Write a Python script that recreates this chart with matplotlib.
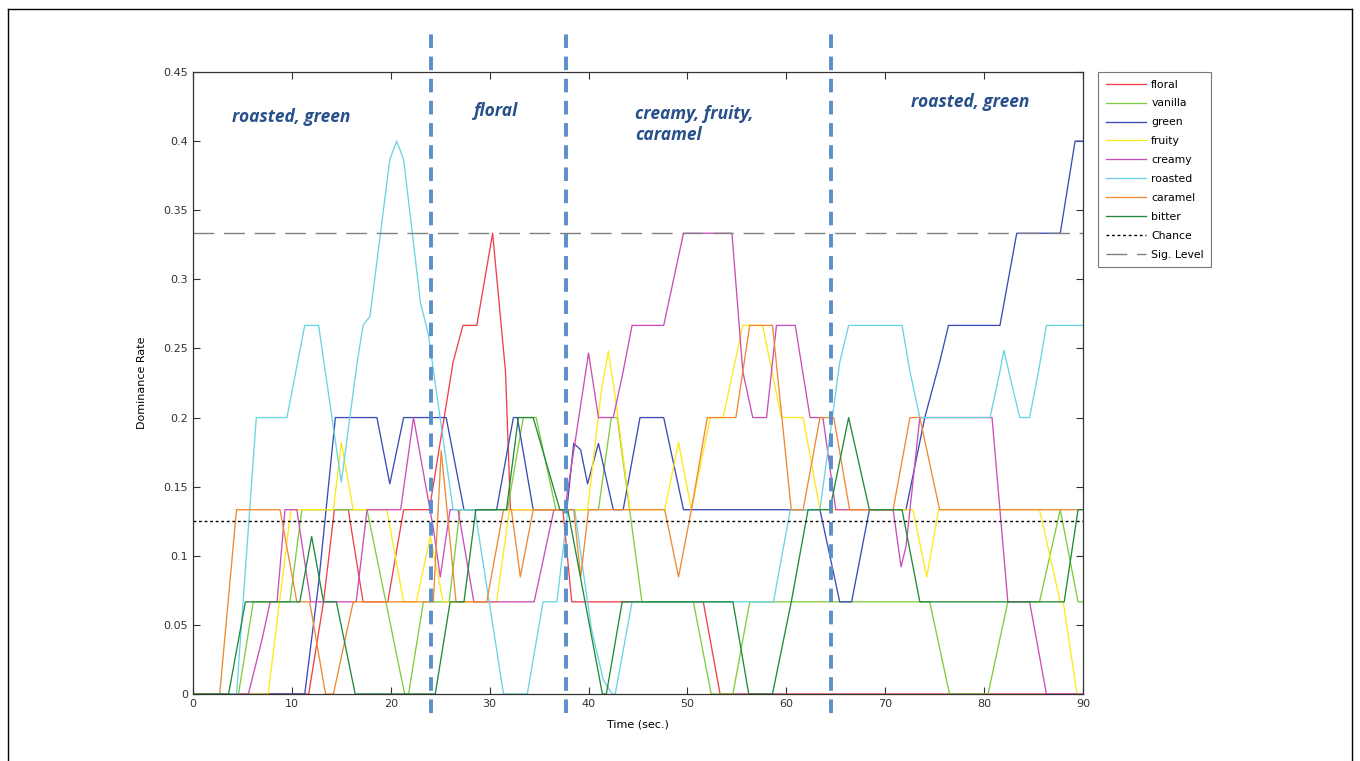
import matplotlib

matplotlib.use("Agg")

import matplotlib.pyplot as plt
from matplotlib.lines import Line2D

# dominance counts out of a 15-person panel
PANEL_SIZE = 15

floral_t = [0, 11.7, 13.2, 14.3, 15.7, 17.2, 19.7, 21.3, 23.9, 26.3, 27.3, 28.7, 30.3, 31.6, 32.1,
            37.4, 38.3, 51.6, 53.3, 90]
floral_c = [0, 0, 1, 2, 2, 1, 1, 2, 2, 3.6, 4, 4, 5, 3.5, 2, 2, 1, 1, 0, 0]

vanilla_t = [0, 4.6, 6.1, 9.8, 11.0, 17.6, 21.4, 21.8, 23.3, 25.9, 27.0, 31.8, 33.4, 34.7, 36.7,
             41.0, 42.3, 42.9, 45.4, 50.6, 52.4, 54.6, 56.3, 74.5, 76.5, 80.4, 82.4, 85.6, 87.7,
             89.5, 90]
vanilla_c = [0, 0, 1, 1, 2, 2, 0, 0, 1, 1, 2, 2, 3, 3, 2, 2, 3, 3, 1, 1, 0, 0, 1, 1, 0, 0, 1, 1, 2,
             1, 1]

green_t = [0, 11.3, 12.7, 14.4, 18.6, 19.9, 21.3, 25.6, 27.4, 30.7, 32.4, 32.8, 34.4, 37.8, 38.5,
           39.2, 39.9, 41.0, 42.5, 43.5, 45.2, 47.6, 49.6, 63.4, 65.4, 66.6, 68.4, 72.1, 74.0, 75.5,
           76.4, 81.6, 83.3, 87.7, 89.2, 90]
green_c = [0, 0, 1.2, 3, 3, 2.28, 3, 3, 2, 2, 3, 3, 2, 2, 2.72, 2.65, 2.28, 2.72, 2, 2, 3, 3, 2, 2,
           1, 1, 2, 2, 3, 3.6, 4, 4, 5, 5, 6, 6]

fruity_t = [0, 7.6, 9.9, 14.2, 15.0, 16.2, 19.6, 21.3, 22.6, 24.0, 25.3, 30.7, 32.0, 39.9, 41.3,
            42.0, 42.6, 44.2, 47.7, 49.1, 50.4, 52.3, 53.6, 55.6, 57.6, 59.5, 61.7, 63.4, 72.8,
            74.2, 75.4, 85.6, 87.7, 88.0, 89.4, 90]
fruity_c = [0, 0, 2, 2, 2.73, 2, 2, 1, 1, 1.71, 1, 1, 2, 2, 3.3, 3.72, 3.3, 2, 2, 2.73, 2, 3, 3, 4,
            4, 3, 3, 2, 2, 1.27, 2, 2, 1, 1, 0, 0]

creamy_t = [0, 5.6, 7.0, 7.8, 8.5, 9.3, 10.5, 11.9, 16.5, 17.6, 21.0, 22.3, 24.3, 25.0, 26.0, 26.8,
            28.4, 34.5, 36.5, 37.6, 40.0, 41.0, 42.5, 43.5, 44.4, 47.6, 49.6, 54.5, 55.6, 56.6, 58.0,
            59.0, 60.9, 62.4, 63.7, 65.0, 70.8, 71.6, 72.1, 73.5, 80.8, 82.4, 84.6, 86.3, 90]
creamy_c = [0, 0, 0.6, 1, 1, 2, 2, 1, 1, 2, 2, 3, 1.8, 1.27, 2, 2, 1, 1, 2, 2, 3.7, 3, 3, 3.5, 4, 4,
            5, 5, 3.5, 3, 3, 4, 4, 3, 3, 2, 2, 1.38, 1.6, 3, 3, 1, 1, 0, 0]

roasted_t = [0, 4.4, 6.4, 9.5, 11.3, 12.7, 15.0, 16.6, 17.2, 17.9, 19.9, 20.6, 21.3, 23.0, 23.8,
             26.3, 28.5, 31.4, 33.8, 35.4, 36.8, 37.9, 38.6, 39.5, 40.3, 41.5, 42.4, 42.7, 44.4,
             58.7, 60.4, 63.4, 65.4, 66.3, 71.7, 72.5, 73.5, 80.6, 81.6, 82.0, 82.5, 83.6, 84.6,
             85.5, 86.3, 90]
roasted_c = [0, 0, 3, 3, 4, 4, 2.3, 3.6, 4, 4.1, 5.8, 6, 5.8, 4.25, 3.9, 2, 2, 0, 0, 1, 1, 2, 2,
             1.3, 0.7, 0.15, 0, 0, 1, 1, 2, 2, 3.6, 4, 4, 3.5, 3, 3, 3.5, 3.73, 3.5, 3, 3, 3.5, 4, 4]

caramel_t = [0, 2.7, 4.4, 8.8, 10.5, 11.8, 13.4, 14.2, 16.2, 24.3, 25.1, 26.6, 29.7, 31.4, 32.2,
             33.1, 34.4, 38.5, 39.2, 40.0, 47.7, 49.1, 50.4, 52.0, 54.9, 56.3, 58.6, 60.5, 61.7,
             63.4, 64.8, 66.4, 70.8, 72.5, 73.5, 75.5, 90]
caramel_c = [0, 0, 2, 2, 1, 1, 0, 0, 1, 1, 2.64, 1, 1, 2, 2, 1.27, 2, 2, 1.27, 2, 2, 1.27, 2, 3, 3,
             4, 4, 2, 2, 3, 3, 2, 2, 3, 3, 2, 2]

bitter_t = [0, 3.6, 5.3, 10.8, 12.0, 13.2, 14.5, 16.4, 24.5, 26.0, 27.4, 28.6, 31.7, 32.9, 34.4,
            37.1, 37.9, 41.4, 41.8, 43.4, 54.6, 56.2, 58.6, 60.5, 62.2, 64.4, 66.3, 68.4, 71.7,
            73.5, 88.1, 89.5, 90]
bitter_c = [0, 0, 1, 1, 1.71, 1, 1, 0, 0, 1, 1, 2, 2, 3, 3, 2, 2, 0, 0, 1, 1, 0, 0, 1, 2, 2, 3, 2,
            2, 1, 1, 2, 2]

SERIES_NAMES = ["floral", "vanilla", "green", "fruity", "creamy", "roasted", "caramel", "bitter"]
SERIES_COLORS = ["#f0414b", "#7fcc3c", "#3b4db5", "#ffe81a", "#c94fb8", "#6cd3e3", "#ee8a34",
                 "#218a3c"]

CHANCE_LEVEL = 0.125
SIG_LEVEL = 1 / 3

PHASE_BREAKS = [24.1, 37.7, 64.5]
PHASE_LABELS = [(3.9, 0.4174, "roasted, green"), (28.4, 0.4218, "floral"),
                (44.7, 0.412, "creamy, fruity,\ncaramel"), (72.6, 0.428, "roasted, green")]


def series_data():
    return [
        (floral_t, floral_c), (vanilla_t, vanilla_c), (green_t, green_c), (fruity_t, fruity_c),
        (creamy_t, creamy_c), (roasted_t, roasted_c), (caramel_t, caramel_c), (bitter_t, bitter_c),
    ]


def main():
    fig = plt.figure(figsize=(13.6, 7.61), dpi=100)
    ax = fig.add_axes([193 / 1360, 67 / 761, 890 / 1360, 622 / 761])

    for name, color, (times, counts) in zip(SERIES_NAMES, SERIES_COLORS, series_data()):
        ax.plot(times, [c / PANEL_SIZE for c in counts], color=color, lw=0.95, label=name)

    ax.axhline(CHANCE_LEVEL, color="black", ls=(0, (2, 2)), lw=1.0, label="Chance")
    ax.axhline(SIG_LEVEL, color="#808080", ls=(0, (15, 7)), lw=1.0, label="Sig. Level")

    for xb in PHASE_BREAKS:
        ax.add_line(Line2D([xb, xb], [-0.03, 1.07], transform=ax.get_xaxis_transform(),
                           color="#5b8fcb", lw=2.8, ls=(0, (3.5, 2.2)), clip_on=False))

    for x, y, text in PHASE_LABELS:
        ax.text(x, y, text, color="#274f8a", fontsize=12.5, fontweight="bold", style="italic",
                family=["Open Sans", "DejaVu Sans"], va="center", linespacing=1.15)

    ax.set_xlim(0, 90)
    ax.set_ylim(0, 0.45)
    ax.set_xticks(range(0, 91, 10))
    ax.set_yticks([i * 0.05 for i in range(10)])
    ax.set_yticklabels(["0", "0.05", "0.1", "0.15", "0.2", "0.25", "0.3", "0.35", "0.4", "0.45"])
    ax.tick_params(direction="in", top=True, right=True, labelsize=8, length=5, width=0.8,
                   colors="#333333")
    for spine in ax.spines.values():
        spine.set_linewidth(0.9)
        spine.set_color("#333333")
    ax.set_xlabel("Time (sec.)", fontsize=8, labelpad=8)
    ax.set_ylabel("Dominance Rate", fontsize=8, labelpad=12)

    leg = ax.legend(loc="upper left", bbox_to_anchor=(1.017, 1.0), fontsize=7.8,
                    frameon=True, fancybox=False, edgecolor="#555555", handlelength=3.7,
                    borderpad=0.7, labelspacing=0.82, handletextpad=0.5, borderaxespad=0)
    leg.get_frame().set_linewidth(0.8)

    # outer frame of the figure panel
    for xs, ys in [([8, 1352], [9, 9]), ([8, 8], [9, 761]), ([1352, 1352], [9, 761])]:
        fig.add_artist(Line2D([x / 1360 for x in xs], [1 - y / 761 for y in ys],
                              color="black", lw=1.0))

    fig.savefig("out.png", dpi=100, facecolor="white")
    plt.close(fig)


if __name__ == "__main__":
    main()
